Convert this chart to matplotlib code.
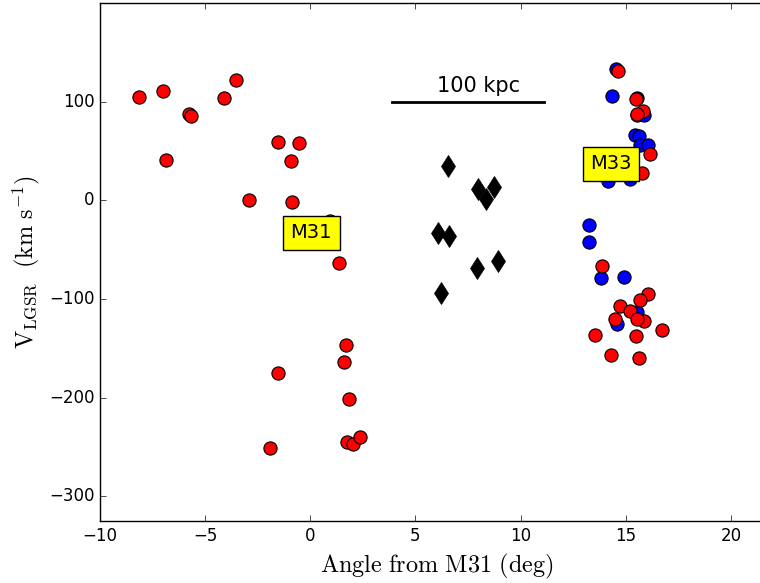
import matplotlib
matplotlib.use("Agg")
import matplotlib.pyplot as plt

plt.style.use("classic")
plt.rcParams["mathtext.fontset"] = "cm"

# M31 satellites (red)
m31_x = [-8.15, -7.0, -6.86, -5.77, -5.67, -4.1, -3.53, -2.9, -1.54, -0.54,
         -0.92, -0.87, 0.94, 1.36, -1.54, 1.70, 1.6, 1.84, -1.92, 1.75, 2.03, 2.36]
m31_y = [105, 111, 41, 88, 85, 104, 122, 0, 59, 58,
         40, -2, -21, -64, -175, -147, -164, -201, -251, -245, -247, -240]

# M33 region, blue
blue_x = [14.52, 14.33, 15.52, 15.55, 15.87, 15.44, 15.64, 15.68, 16.07, 14.14,
          15.2, 13.25, 13.25, 13.82, 14.93, 15.55, 14.57]
blue_y = [133, 106, 104, 86, 86, 66, 65, 56, 56, 20,
          22, -25, -42, -79, -78, -113, -125]

# M33 region, red
m33_x = [14.61, 15.49, 15.8, 15.52, 16.15, 15.76, 13.85, 16.04, 15.68, 14.73,
         15.2, 15.87, 15.55, 14.49, 13.54, 15.49, 16.74, 14.28, 15.63]
m33_y = [131, 103, 91, 88, 46.5, 27.6, -67, -95, -101, -107,
         -112.5, -122, -120, -120, -136, -138, -131, -157, -160]

# black diamonds in between
mid_x = [6.53, 7.96, 8.72, 8.36, 6.07, 6.58, 7.94, 8.94, 6.2]
mid_y = [35, 11, 14, 1, -33, -36, -69, -61, -94]

scale_x = [3.9, 11.1]
scale_y = [100, 100]

fig = plt.figure(figsize=(7.6, 5.83), dpi=100, facecolor="white")
ax = fig.add_axes([100 / 760, 62 / 583, 673 / 760, 518 / 583])

ax.plot(blue_x, blue_y, "o", color="blue", markersize=9.5, markeredgecolor="k", markeredgewidth=0.8)
ax.plot(m31_x + m33_x, m31_y + m33_y, "o", color="red", markersize=9.5, markeredgecolor="k", markeredgewidth=0.8)
ax.plot(mid_x, mid_y, "d", color="k", markersize=11.5)

ax.plot(scale_x, scale_y, "k-", linewidth=2)
ax.text(8.0, 116, "100 kpc", fontsize=15, ha="center", va="center")

box = dict(boxstyle="square,pad=0.38", facecolor="yellow", edgecolor="k")
ax.text(0.05, -33, "M31", fontsize=14, ha="center", va="center", bbox=box)
ax.text(14.29, 37, "M33", fontsize=14, ha="center", va="center", bbox=box)

ax.set_xlim(-10, 22)
ax.set_ylim(-325, 200)
ax.set_xticks([-10, -5, 0, 5, 10, 15, 20])
ax.set_yticks([-300, -200, -100, 0, 100])
ax.set_xlabel(r"$\mathrm{Angle\ from\ M31\ (deg)}$", fontsize=17.5)
ax.set_ylabel(r"$\mathrm{V_{LGSR}\ \ (km\ s^{-1})}$", fontsize=17.5)

fig.savefig("out.png", dpi=100, facecolor="white")
